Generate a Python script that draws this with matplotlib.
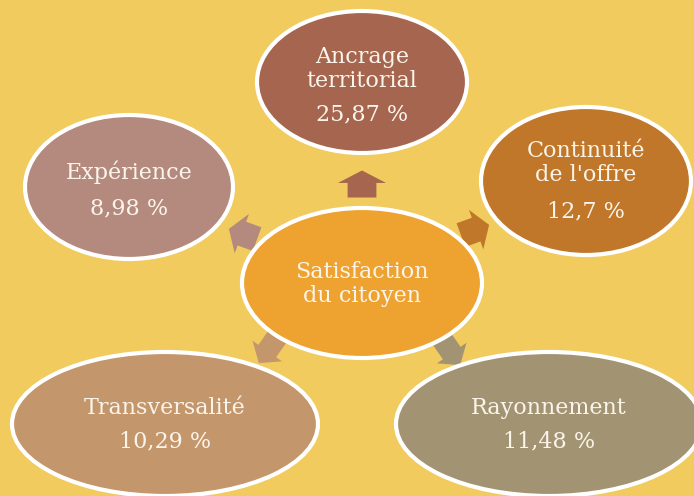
import numpy as np
import matplotlib
matplotlib.use("Agg")
import matplotlib.pyplot as plt
from matplotlib.patches import Ellipse, Polygon

# data
center_label = "Satisfaction\ndu citoyen"
labels = ["Ancrage\nterritorial", "Continuité\nde l'offre", "Rayonnement",
          "Transversalité", "Expérience"]
values = ["25,87 %", "12,7 %", "11,48 %", "10,29 %", "8,98 %"]

# layout (pixels, y down)
node_xy = [(362, 82), (586, 181), (549, 424), (165, 424), (129, 187)]
node_size = [(210, 142), (210, 148), (306, 144), (306, 144), (208, 144)]
name_y = [69, 163, 408, 408, 172]
value_y = [114, 211, 441, 441, 208]
node_colors = ["#A5654E", "#C1772A", "#A29372", "#C4966C", "#B58A7E"]
arrow_xy = [(362, 184), (475, 230), (451, 352), (268, 350), (243, 234)]
arrow_ang = [90, 20, -55, 235, 160]
arrow_len = [27, 30, 32, 32, 30]
arrow_w = [48, 42, 36, 36, 42]

bg = "#F1CB5E"
txt_color = "#FBF4EA"
font = "DejaVu Serif"
fs = 16

fig = plt.figure(figsize=(6.94, 4.96), dpi=100)
fig.patch.set_facecolor(bg)
ax = fig.add_axes([0, 0, 1, 1])
ax.set_xlim(0, 694)
ax.set_ylim(496, 0)
ax.axis("off")


def arrow(cx, cy, ang, L, w, color):
    head = 0.46 * L
    sw = w * 0.6
    pts = np.array([[-L / 2, sw / 2], [L / 2 - head, sw / 2], [L / 2 - head, w / 2],
                    [L / 2, 0], [L / 2 - head, -w / 2], [L / 2 - head, -sw / 2],
                    [-L / 2, -sw / 2]])
    t = np.radians(ang)
    x = cx + pts[:, 0] * np.cos(t) - pts[:, 1] * np.sin(t)
    y = cy - (pts[:, 0] * np.sin(t) + pts[:, 1] * np.cos(t))
    ax.add_patch(Polygon(np.c_[x, y], closed=True, facecolor=color,
                         edgecolor="none", zorder=1))


for i in range(len(labels)):
    arrow(*arrow_xy[i], arrow_ang[i], arrow_len[i], arrow_w[i], node_colors[i])

# outer nodes
for i in range(len(labels)):
    (x, y), (w, h) = node_xy[i], node_size[i]
    ax.add_patch(Ellipse((x, y), w, h, facecolor=node_colors[i],
                         edgecolor="white", lw=3, zorder=2))
    ax.text(x, name_y[i], labels[i], ha="center", va="center", color=txt_color,
            fontsize=fs, family=font, linespacing=1.1, zorder=3)
    ax.text(x, value_y[i], values[i], ha="center", va="center", color=txt_color,
            fontsize=fs, family=font, zorder=3)

# center node
ax.add_patch(Ellipse((362, 283), 240, 150, facecolor="#EEA22F",
                     edgecolor="white", lw=3, zorder=2))
ax.text(362, 284, center_label, ha="center", va="center", color=txt_color,
        fontsize=fs, family=font, linespacing=1.1, zorder=3)

fig.savefig("out.png", dpi=100, facecolor=bg)
